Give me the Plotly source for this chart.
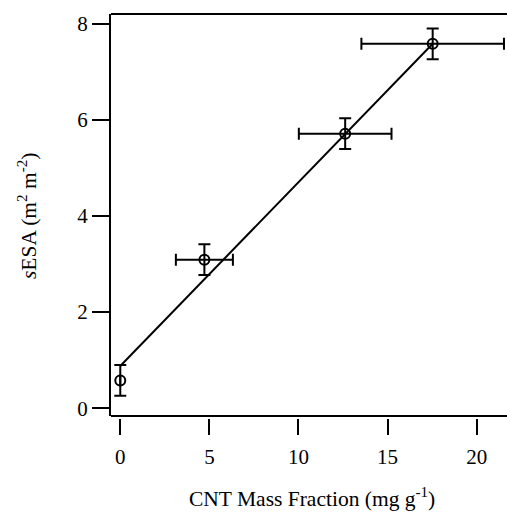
import plotly.graph_objects as go

# Data
cnt_mass_fraction = [0.0, 4.72, 12.62, 17.53]
cnt_err = [0.0, 1.6, 2.6, 4.0]
sesa = [0.58, 3.09, 5.71, 7.58]
sesa_err = [0.32, 0.32, 0.32, 0.32]
fit_x = [0.0, 17.53]
fit_y = [0.88, 7.58]
x_ticks = [0, 5, 10, 15, 20]
y_ticks = [0, 2, 4, 6, 8]

FONT = "Times New Roman, Liberation Serif, Tinos, serif"
FS = 21
W, H = 507, 512
L, R, T, B = 111, 0, 14, 94
plot_h = H - T - B
spine_off = 2  # px gap between bottom spine and x ticks

fig = go.Figure()
fig.add_trace(go.Scatter(
    x=fit_x, y=fit_y, mode="lines",
    line=dict(color="black", width=2), showlegend=False, hoverinfo="skip"))
fig.add_trace(go.Scatter(
    x=cnt_mass_fraction, y=sesa, mode="markers",
    marker=dict(symbol="circle-open", size=10, color="black",
                line=dict(color="black", width=2)),
    error_y=dict(type="data", array=sesa_err, visible=True,
                 color="black", thickness=2, width=6),
    error_x=dict(type="data", array=cnt_err, visible=True,
                 color="black", thickness=2, width=6),
    showlegend=False))

fig.update_layout(
    width=W, height=H,
    margin=dict(l=L, r=R, t=T, b=B, pad=0),
    paper_bgcolor="white", plot_bgcolor="white",
    font=dict(family=FONT, size=FS, color="black"),
    xaxis=dict(range=[-0.52, 21.70], tickvals=x_ticks,
               showgrid=False, zeroline=False, showline=False,
               ticks="outside", ticklen=16, tickwidth=2, tickcolor="black",
               anchor="free", position=0, ticklabelstandoff=4,
               tickfont=dict(family=FONT, size=FS, color="black")),
    yaxis=dict(range=[-0.16, 8.20], tickvals=y_ticks,
               domain=[spine_off / plot_h, 1],
               showgrid=False, zeroline=False,
               showline=True, linewidth=2, linecolor="black",
               ticks="outside", ticklen=17, tickwidth=2, tickcolor="black",
               tickfont=dict(family=FONT, size=FS, color="black")),
    shapes=[
        dict(type="line", xref="paper", yref="y domain", x0=0, x1=1, y0=1, y1=1,
             line=dict(color="black", width=2)),
        dict(type="line", xref="paper", yref="y domain", x0=0, x1=1, y0=0, y1=0,
             line=dict(color="black", width=2)),
    ],
    annotations=[
        dict(text="CNT Mass Fraction (mg g<sup>-1</sup>)", xref="paper", yref="paper",
             x=(312 - L) / (W - L - R), y=(418 - 513) / plot_h, xanchor="center", yanchor="bottom",
             showarrow=False, font=dict(family=FONT, size=21.5, color="black")),
        dict(text="<i>s</i>ESA (m<sup>2</sup> m<sup>-2</sup>)", xref="paper", yref="paper",
             x=(27 - L) / (W - L - R), y=(418 - 216) / plot_h, xanchor="center", yanchor="middle",
             textangle=-90, showarrow=False, font=dict(family=FONT, size=21.5, color="black")),
    ],
)

fig.write_html("out.html")
